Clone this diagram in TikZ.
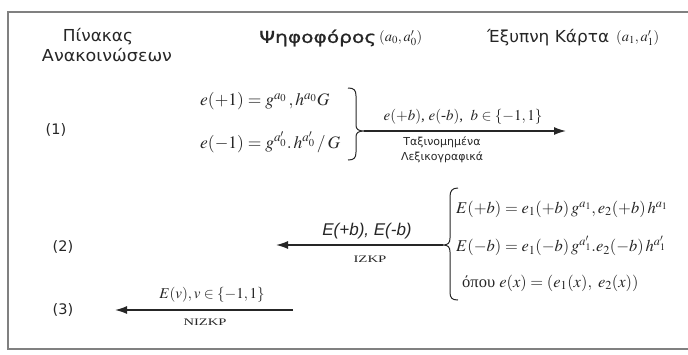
\documentclass[tikz,border=0pt]{standalone}
\usepackage{mathptmx}
\usepackage{fontspec}
\setmainfont{Liberation Serif}
\newfontfamily\hfont{DejaVu Sans}
\newfontfamily\hfontb[FakeBold=0.9]{DejaVu Sans}
\newfontfamily\afont{Liberation Sans}
\usepackage{graphicx}
\usetikzlibrary{arrows.meta}
\newcommand\fw[2]{\resizebox{#1}{\height}{#2}}
\definecolor{ink}{gray}{0.15}
\definecolor{frame}{gray}{0.5}
\tikzset{
  hdr/.style={inner sep=0pt, text=ink, font=\hfont\fontsize{16.5}{18}\selectfont},
  num/.style={inner sep=0pt, text=ink, font=\hfont\fontsize{14.5}{16}\selectfont},
  eq/.style={inner sep=0pt, text=ink, anchor=west, font=\fontsize{17.5}{19}\selectfont},
  req/.style={inner sep=0pt, text=ink, anchor=west, font=\fontsize{16.5}{19}\selectfont},
  lab/.style={inner sep=0pt, text=ink, font=\fontsize{15}{17}\selectfont},
  small/.style={inner sep=0pt, text=ink, font=\hfont\fontsize{11}{15}\selectfont, align=center},
  tiny/.style={inner sep=0pt, text=ink, font=\fontsize{10}{12}\selectfont},
  arr/.style={draw=ink, line width=1.4pt, -{Latex[length=12pt,width=8pt]}},
  brace/.style={draw=ink, line width=1pt},
}
\begin{document}
\begin{tikzpicture}[x=1pt,y=-1pt]
\useasboundingbox (0,0) rectangle (688,354);
\clip (0,0) rectangle (688,354);
\draw[frame, line width=1.3pt] (700,12) -- (8,12) -- (8,349) -- (700,349);

% headers
\node[hdr] (pin1) at (98,37) {\fw{70pt}{Πίνακας}};
\node[hdr] (pin2) at (107,55) {\fw{130pt}{Ανακοινώσεων}};
\node[hdr, anchor=west] (voter) at (259,38) {\fw{117pt}{\hfontb Ψηφοφόρος}};
\node[inner sep=0pt, text=ink, anchor=west, font=\fontsize{14.5}{15}\selectfont] (voterk) at (379,38) {$(a_0,a'_0)$};
\node[hdr, anchor=west] (card) at (487,38) {\fw{122pt}{Έξυπνη Κάρτα}};
\node[inner sep=0pt, text=ink, anchor=west, font=\fontsize{14.5}{15}\selectfont] (cardk) at (616,38) {$(a_1,a'_1)$};

% row numbers
\node[num] (n1) at (56,130) {(1)};
\node[num] (n2) at (63,247) {(2)};
\node[num] (n3) at (63,310) {(3)};

% row 1
\node[eq] (ep) at (200,101) {$e(+1)=g^{a_0}\,,h^{a_0}G$};
\node[eq] (em) at (200,142) {$e(-1)=g^{a'_0}.\,h^{a'_0}\,/\,G$};
\draw[brace] (348,88) .. controls (354,88) and (356,90) .. (356,96) -- (356,125) .. controls (356,129) and (358,131) .. (364,131) .. controls (358,131) and (356,133) .. (356,137) -- (356,152) .. controls (356,158) and (354,160) .. (348,160);
\coordinate (b1) at (364,131);
\coordinate (t1) at (566,131);
\draw[arr] (b1) -- (t1);
\node[lab] (l1) at (463,117) {$e(+b)$, $e(\mbox{-}b)$, \ $b\in\{-1,1\}$};
\node[small] (l1b) at (442,150) {Ταξινομημένα\\Λεξικογραφικά};

% row 2
\draw[brace] (458,188) .. controls (452,188) and (450,191) .. (450,197) -- (450,238) .. controls (450,243) and (448,245) .. (443,245) .. controls (448,245) and (450,247) .. (450,252) -- (450,292) .. controls (450,298) and (452,300) .. (458,300);
\coordinate (b2) at (443,245);
\coordinate (t2) at (276,245);
\draw[arr] (b2) -- (t2);
\node[inner sep=0pt, text=ink, font=\afont\itshape\fontsize{17}{19}\selectfont] (l2) at (367,231) {E(+b), E(-b)};
\node[tiny] (l2b) at (370,259) {\fw{33pt}{IZKP}};
\node[req] (Ep) at (456,209) {$E(+b)=e_1(+b)\,g^{a_1},e_2(+b)\,h^{a_1}$};
\node[req] (Em) at (456,246) {$E(-b)=e_1(-b)\,g^{a'_1}.e_2(-b)\,h^{a'_1}$};
\node[req] (opou) at (462,283) {όπου $e(x)=(e_1(x),\ e_2(x))$};

% row 3
\coordinate (b3) at (293,310);
\coordinate (t3) at (115,310);
\draw[arr] (b3) -- (t3);
\node[lab] (l3) at (212,295) {$E(v),v\in\{-1,1\}$};
\node[tiny] (l3b) at (205,322) {\fw{43pt}{NIZKP}};
\end{tikzpicture}
\end{document}
